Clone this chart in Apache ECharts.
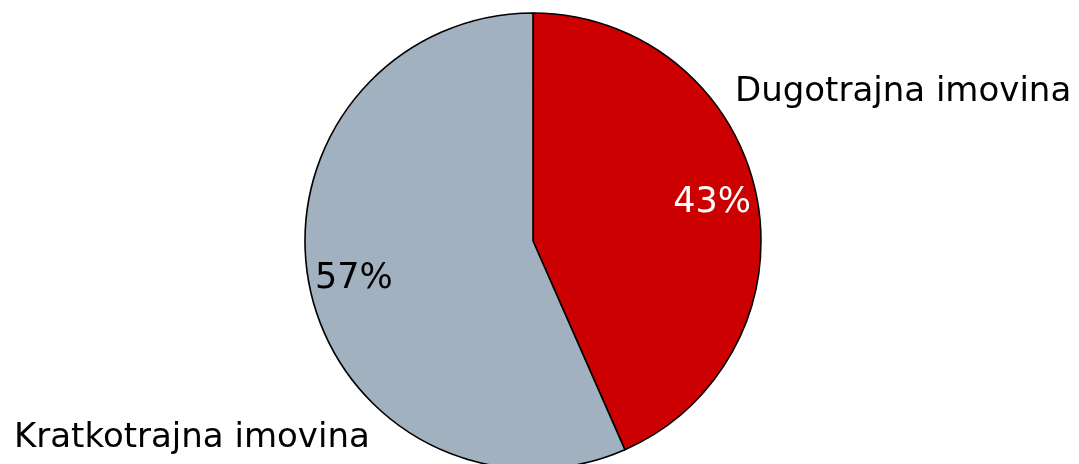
<!DOCTYPE html>
<html lang="hr">
<head>
    <meta charset="UTF-8">
    <title>Imovina</title>
    <style>
        html, body { margin: 0; padding: 0; background: #fff; }
    </style>
</head>
<body>
<div id="main" style="width: 1079px;height:464px;"></div>
<script src="https://cdn.jsdelivr.net/npm/echarts@6/dist/echarts.min.js"></script>
<script type="text/javascript">
    var names = ['Dugotrajna imovina', 'Kratkotrajna imovina'];
    var values = [43.4, 56.6];
    var colors = ['#CC0000', '#A2B1C0'];
    var pctColors = ['#ffffff', '#000000'];

    // name label anchors (left / middle of text), chart pixels
    var namePos = [[735, 92], [14, 438]];

    var font = 'DejaVu Sans';
    var cx = 533, cy = 241, r = 228;

    var slices = [];
    var ring = [];
    for (var i = 0; i < names.length; i++) {
        slices.push({ name: names[i], value: values[i], itemStyle: { color: colors[i] } });
        ring.push({ name: names[i], value: values[i], label: { color: pctColors[i] } });
    }

    var myChart = echarts.init(document.getElementById('main'));
    myChart.setOption({
        animation: false,
        series: [
            {
                type: 'pie',
                center: [cx, cy],
                radius: [0, r],
                startAngle: 90,
                clockwise: true,
                silent: true,
                itemStyle: { borderColor: '#000', borderWidth: 1.6 },
                label: {
                    show: true,
                    position: 'outside',
                    formatter: '{b}',
                    fontFamily: font,
                    fontSize: 34,
                    color: '#000',
                    overflow: 'none',
                    width: 500
                },
                labelLine: { show: false },
                labelLayout: function (p) {
                    var pos = namePos[p.dataIndex];
                    return { x: pos[0], y: pos[1], align: 'left', verticalAlign: 'middle' };
                },
                data: slices
            },
            {
                // transparent ring only to place the percent labels near the rim
                type: 'pie',
                center: [cx, cy],
                radius: [160, 200],
                startAngle: 90,
                clockwise: true,
                silent: true,
                itemStyle: { color: 'rgba(0,0,0,0)', borderWidth: 0 },
                label: {
                    show: true,
                    position: 'inside',
                    formatter: function (p) { return Math.round(p.percent) + '%'; },
                    fontFamily: font,
                    fontSize: 35
                },
                labelLine: { show: false },
                data: ring
            }
        ]
    });
</script>
</body>
</html>
